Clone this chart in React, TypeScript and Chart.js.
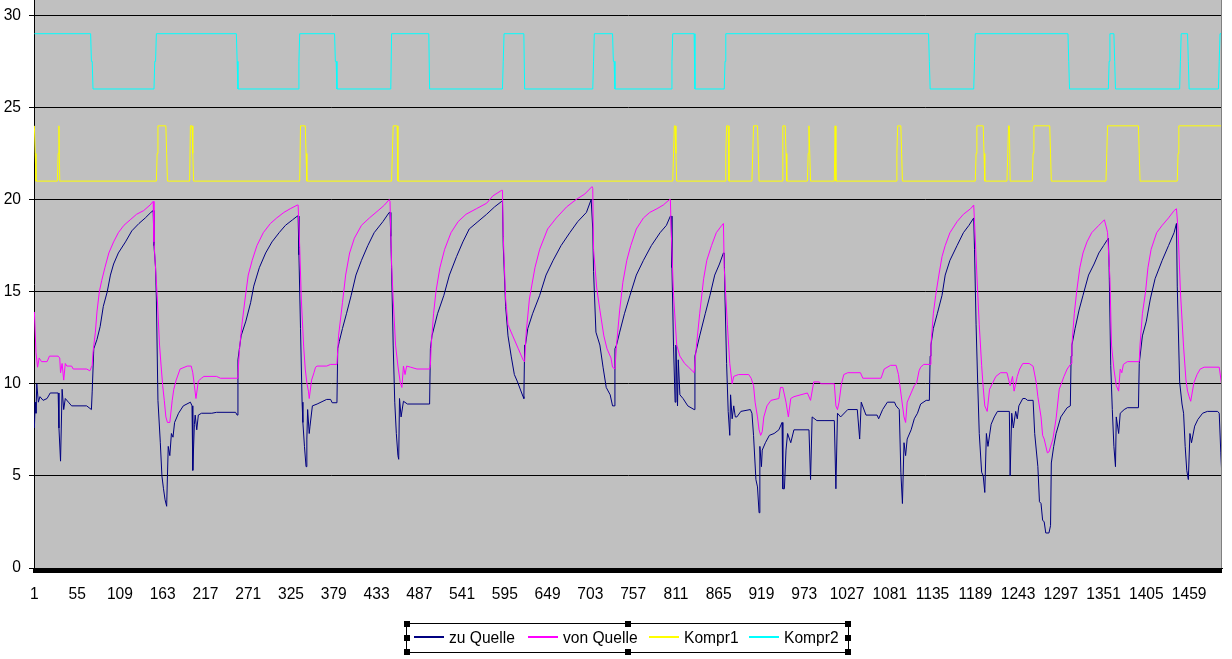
import React, { useEffect, useRef } from "react";
import { Chart, registerables } from "chart.js";

Chart.register(...registerables);

// ---------- data ----------
const SERIES_LABELS = ["zu Quelle", "von Quelle", "Kompr1", "Kompr2"];

const X_TICKS = [1, 55, 109, 163, 217, 271, 325, 379, 433, 487, 541, 595, 649, 703, 757, 811, 865, 919, 973, 1027, 1081, 1135, 1189, 1243, 1297, 1351, 1405, 1459];
const Y_TICKS = [0, 5, 10, 15, 20, 25, 30];
const X_MIN = 0.5;
const X_MAX = 1500.5;
const Y_MAX = 30.83;

// [category, value]
const ZU_QUELLE: [number, number][] = [
  [1,7.6],[2,9.0],[3,8.4],[4,10.0],[6,9.0],[8,9.3],[12,9.1],[17,9.2],[21,9.5],[31,9.5],[32,7.6],[34,5.8],[36,9.7],[38,8.6],[40,9.2],[44,9.0],[48,8.8],[67,8.8],[70,8.7],[73,8.6],[74,9.6],[76,11.9],[80,12.4],[84,13.1],[88,14.2],[93,15.0],[97,15.9],[101,16.5],[107,17.1],[116,17.7],[124,18.3],[133,18.7],[141,19.0],[148,19.3],[151,19.4],
  [152,17.5],[154,16.3],[155,14.6],[157,9.1],[160,6.8],[162,5.0],[164,4.3],[166,3.7],[168,3.35],[169,5.0],[170,6.6],[172,6.1],[174,7.3],[176,7.1],[178,7.9],[183,8.4],[189,8.8],[198,9.0],[200,8.8],[201,5.3],[203,7.8],[204,8.3],[206,7.5],[208,8.3],[212,8.4],[225,8.4],[231,8.45],[255,8.45],[257,8.3],
  [258,11.3],[262,12.6],[268,13.4],[274,14.4],[278,15.3],[285,16.3],[293,17.1],[301,17.7],[310,18.2],[318,18.6],[327,18.9],[333,19.1],[334,19.1],
  [335,17.0],[337,13.0],[339,9.0],[340,7.9],[342,6.6],[344,5.5],[345,7.0],[346,8.6],[348,7.3],[349,7.7],[352,8.8],[358,8.9],[370,9.15],[375,9.15],[377,8.97],[383,8.97],
  [384,11.9],[386,12.3],[390,13.0],[395,13.8],[401,14.8],[407,15.9],[414,16.7],[422,17.5],[430,18.2],[441,18.8],[449,19.3],[450,19.3],
  [451,18.0],[452,16.3],[454,12.1],[456,9.0],[458,7.3],[460,6.1],[461,5.9],[462,9.2],[464,8.2],[467,9.05],[472,8.9],[500,8.9],
  [501,11.9],[503,12.6],[510,13.8],[518,14.8],[525,15.9],[534,16.9],[542,17.7],[550,18.4],[561,18.8],[572,19.2],[582,19.6],[591,19.9],[592,19.9],
  [593,17.5],[596,14.2],[599,12.6],[603,11.5],[607,10.5],[611,10.1],[618,9.3],[619,9.2],
  [620,12.1],[621,12.1],[624,13.0],[630,13.8],[639,14.8],[647,15.9],[656,16.7],[666,17.5],[677,18.2],[687,18.8],[698,19.3],[704,20.0],[705,20.0],
  [706,18.4],[707,16.1],[710,12.8],[715,12.1],[719,10.9],[723,9.8],[728,9.4],[731,8.8],[733,8.8],
  [734,11.9],[736,12.1],[740,12.8],[746,13.8],[753,14.8],[761,15.9],[770,16.7],[780,17.5],[791,18.2],[799,18.6],[804,19.1],[805,19.1],
  [806,16.3],[808,12.0],[810,9.0],[811,12.1],[813,8.8],[814,11.3],[816,9.4],[820,9.2],[826,8.8],[834,8.6],
  [835,11.5],[841,12.6],[848,13.8],[854,14.8],[860,15.9],[866,16.5],[871,17.1],[872,17.1],
  [873,14.6],[875,11.1],[877,8.5],[879,7.2],[880,9.4],[882,8.1],[884,8.8],[886,8.2],[888,8.2],[893,8.5],[905,8.6],[907,8.4],[909,7.2],[912,4.8],[914,4.4],[916,3.0],[917,6.6],[919,5.5],[920,6.4],[924,6.8],[929,7.2],[935,7.3],[941,7.5],[945,7.9],[946,4.3],[948,4.3],[950,6.4],[952,7.3],[956,6.8],[960,7.5],[979,7.5],[981,4.8],[983,8.2],[989,8.0],[998,8.0],[1011,8.0],[1013,4.3],[1015,8.4],[1019,8.2],[1028,8.6],[1040,8.6],[1043,7.0],[1045,9.0],[1051,8.3],[1065,8.3],[1067,8.1],[1072,8.6],[1078,9.0],[1087,9.0],[1089,8.8],[1093,8.6],
  [1095,5.2],[1097,3.5],[1099,6.8],[1101,6.1],[1103,7.0],[1108,7.5],[1112,8.1],[1116,8.4],[1120,8.9],[1127,9.1],[1131,9.1],
  [1132,11.5],[1133,12.1],[1136,13.0],[1141,13.8],[1147,14.8],[1151,15.9],[1157,16.7],[1166,17.5],[1174,18.2],[1181,18.6],[1187,19.0],
  [1188,17.3],[1190,13.2],[1192,10.1],[1194,7.3],[1197,5.2],[1199,5.0],[1201,4.1],[1203,7.3],[1205,6.6],[1209,7.8],[1213,8.2],[1217,8.5],[1232,8.5],[1233,5.0],[1235,8.4],[1237,7.6],[1240,8.5],[1242,8.1],[1244,8.8],[1249,9.2],[1252,9.2],[1255,9.1],[1262,9.1],
  [1264,7.3],[1268,5.5],[1270,3.6],[1272,3.5],[1274,2.6],[1276,2.5],[1278,1.9],[1282,1.9],[1284,2.3],[1285,5.7],[1288,6.6],[1291,7.3],[1297,8.2],[1305,8.7],[1309,8.8],
  [1310,11.5],[1311,12.1],[1315,13.0],[1320,14.0],[1325,14.8],[1332,15.9],[1339,16.5],[1345,17.1],[1351,17.5],[1357,17.9],
  [1358,16.3],[1360,11.0],[1362,8.6],[1364,6.6],[1366,5.5],[1367,8.2],[1370,7.3],[1372,8.4],[1377,8.6],[1381,8.7],[1395,8.7],
  [1396,11.1],[1400,12.6],[1405,13.4],[1410,14.6],[1416,15.7],[1425,16.7],[1433,17.5],[1440,18.2],[1443,18.7],
  [1444,15.3],[1447,10.1],[1450,8.9],[1452,8.4],[1454,6.6],[1456,5.3],[1458,4.8],[1460,7.3],[1462,6.8],[1466,7.7],[1470,8.06],[1476,8.4],[1482,8.5],[1495,8.5],[1497,8.4],[1499,6.25],[1500,5.3],
];

const VON_QUELLE: [number, number][] = [
  [1,13.9],[3,11.7],[5,10.9],[7,11.4],[10,11.2],[17,11.2],[20,11.5],[31,11.5],[33,11.4],[34,10.6],[36,11.1],[38,10.2],[40,11.1],[42,10.96],[48,10.96],[50,10.8],[67,10.8],[71,10.7],[73,10.9],[74,11.0],
  [75,11.7],[78,12.8],[80,13.9],[83,15.0],[86,15.6],[90,16.3],[95,17.1],[101,17.7],[107,18.2],[114,18.6],[122,18.9],[130,19.2],[139,19.4],[147,19.7],[151,19.9],
  [152,17.7],[156,14.8],[159,12.1],[161,10.96],[163,9.9],[165,9.1],[167,8.2],[169,7.9],[172,7.9],[175,9.1],[177,9.7],[180,10.2],[185,10.8],[194,10.96],[199,10.96],[201,10.6],[203,9.9],[205,9.2],[208,10.15],[212,10.3],[215,10.4],[231,10.4],[236,10.3],[257,10.3],
  [258,10.5],[260,11.9],[263,13.2],[267,14.6],[271,15.9],[276,16.7],[282,17.5],[290,18.2],[299,18.7],[307,19.0],[316,19.3],[324,19.5],[333,19.7],[334,19.7],
  [336,17.4],[338,14.6],[341,12.0],[343,10.8],[345,10.05],[347,9.6],[348,9.2],[351,10.2],[354,10.6],[356,10.9],[358,10.96],[370,10.96],[375,11.05],[383,11.05],
  [385,12.6],[390,14.4],[394,15.9],[399,17.1],[405,17.9],[414,18.6],[424,19.0],[435,19.4],[443,19.7],[449,20.0],[450,19.9],
  [452,16.5],[454,14.6],[457,12.1],[460,10.96],[463,10.05],[465,9.8],[467,10.96],[469,10.5],[471,10.96],[476,10.9],[484,10.8],[500,10.8],
  [501,11.0],[502,12.1],[505,13.8],[508,15.0],[513,16.3],[519,17.3],[527,18.2],[536,18.8],[546,19.2],[559,19.5],[572,19.8],[580,20.2],[591,20.5],[592,20.5],
  [593,18.0],[596,14.6],[599,13.2],[605,12.6],[612,11.9],[618,11.3],[620,11.2],
  [622,12.8],[626,14.6],[633,16.3],[639,17.3],[649,18.4],[660,19.0],[673,19.6],[685,20.0],[696,20.3],[705,20.7],[706,20.6],
  [707,17.3],[711,15.2],[715,14.0],[720,12.6],[724,11.9],[729,11.4],[731,10.9],[734,10.8],
  [736,12.1],[740,14.0],[744,15.5],[749,16.7],[754,17.5],[761,18.4],[770,19.0],[778,19.3],[787,19.5],[795,19.7],[803,20.0],[804,20.0],
  [805,18.4],[808,14.8],[812,12.1],[816,11.5],[822,11.1],[827,10.9],[834,10.6],
  [837,12.1],[841,13.8],[846,15.7],[850,16.7],[856,17.5],[862,18.2],[869,18.6],[871,18.7],
  [872,16.3],[876,13.2],[879,11.1],[882,10.0],[884,10.4],[890,10.5],[903,10.5],[906,10.3],[909,9.9],[911,9.0],[914,8.2],[916,7.5],[918,7.2],[920,7.4],[922,8.2],[926,8.8],[931,9.1],[941,9.2],[943,9.8],[946,9.8],[950,9.0],[953,8.2],[956,9.2],[960,9.3],[977,9.5],[981,9.1],[985,10.1],[992,10.1],[994,10.0],[1011,10.0],[1013,8.8],[1015,8.6],[1017,9.0],[1020,10.0],[1023,10.5],[1028,10.6],[1044,10.6],[1047,10.3],[1070,10.3],[1074,10.8],[1082,11.0],[1089,11.0],
  [1092,10.5],[1095,9.5],[1099,8.2],[1101,7.9],[1103,9.0],[1108,9.5],[1112,9.9],[1115,10.05],[1118,10.7],[1120,10.9],[1124,11.05],[1132,11.05],
  [1133,12.1],[1136,13.8],[1139,14.8],[1143,15.9],[1147,16.9],[1151,17.5],[1157,18.2],[1166,18.8],[1174,19.2],[1183,19.5],[1187,19.7],
  [1188,18.8],[1191,15.9],[1194,13.2],[1197,11.0],[1199,9.8],[1201,8.8],[1204,8.5],[1207,9.7],[1211,10.05],[1215,10.4],[1221,10.6],[1229,10.6],[1233,9.9],[1236,10.4],[1238,9.6],[1242,10.4],[1245,10.8],[1249,11.1],[1257,11.1],[1262,10.95],
  [1266,10.05],[1268,9.3],[1272,8.2],[1274,7.2],[1276,7.0],[1280,6.25],[1282,6.3],[1287,7.0],[1291,8.1],[1295,9.7],[1301,10.4],[1305,10.8],[1310,11.1],
  [1311,12.1],[1314,13.8],[1317,15.0],[1321,16.3],[1325,17.1],[1330,17.7],[1336,18.2],[1345,18.6],[1352,18.9],[1355,18.4],[1356,18.2],
  [1359,15.7],[1361,12.1],[1364,10.8],[1367,9.9],[1370,9.6],[1372,10.8],[1374,10.6],[1376,11.05],[1381,11.2],[1396,11.2],
  [1397,12.1],[1400,13.8],[1404,15.0],[1407,16.3],[1411,17.3],[1418,18.2],[1425,18.6],[1433,19.0],[1440,19.4],[1443,19.5],
  [1445,18.4],[1448,15.0],[1452,12.0],[1455,10.2],[1457,9.6],[1459,9.3],[1461,9.05],[1465,10.05],[1469,10.5],[1473,10.8],[1478,10.9],[1497,10.9],[1500,9.96],
];

const KOMPR1: [number, number][] = [
  [1,24],[2,22.5],[3,21],[30,21],[31,22.5],[32,24],[33,21],[155,21],[156,22.5],[157,24],[167,24],[168,22.5],[169,21],[197,21],[198,24],[200,24],[201,22.5],[202,21],
  [336,21],[337,24],[343,24],[344,22.5],[345,21],[452,21],[453,22.5],[454,24],[459,24],[460,21],
  [807,21],[808,22.5],[809,24],[810,24],[811,22.5],[812,21],[873,21],[874,22.5],[875,24],[877,24],[878,21],[907,21],[908,22.5],[909,24],[914,24],[915,22.5],[916,21],
  [945,21],[946,24],[949,24],[950,22.5],[951,21],[977,21],[978,22.5],[979,24],[980,22.5],[981,21],[1011,21],[1012,24],[1013,21],
  [1089,21],[1090,22.5],[1091,24],[1095,24],[1096,22.5],[1097,21],[1189,21],[1190,22.5],[1191,24],[1199,24],[1200,22.5],[1201,21],
  [1229,21],[1230,22.5],[1231,24],[1232,24],[1233,21],[1261,21],[1262,22.5],[1263,24],[1283,24],[1284,22.5],[1285,21],
  [1354,21],[1355,22.5],[1356,24],[1395,24],[1396,22.5],[1397,21],[1444,21],[1445,22.5],[1446,24],[1500,24],
];

const KOMPR2: [number, number][] = [
  [1,29],[72,29],[73,27.5],[74,27.5],[75,26],[152,26],[153,27.5],[154,27.5],[155,29],[256,29],[257,27.5],[258,26],[334,26],[335,27.5],[336,29],
  [380,29],[381,27.5],[382,27.5],[383,26],[451,26],[452,29],[499,29],[500,26],[592,26],[593,27.5],[594,29],[619,29],[620,26],[706,26],[707,27.5],[708,29],
  [731,29],[732,27.5],[733,27.5],[734,26],[805,26],[806,27.5],[807,29],[834,29],[835,26],[872,26],[873,27.5],[874,29],
  [1130,29],[1131,27.5],[1132,26],[1187,26],[1188,27.5],[1189,29],[1306,29],[1307,27.5],[1308,26],[1357,26],[1358,27.5],[1359,29],
  [1364,29],[1365,27.5],[1366,26],[1447,26],[1448,27.5],[1449,29],[1457,29],[1458,27.5],[1459,26],[1496,26],[1497,27.5],[1498,29],[1500,29],
];

// ---------- styles ----------
const COLORS = ["#000080", "#FF00FF", "#FFFF00", "#00FFFF"];
const FONT = "Arial, 'Liberation Sans', sans-serif";
const FONT_SIZE = 15.6;
const PLOT_BG = "#C0C0C0";

// legend layout (px, relative to the legend box)
const LEGEND_BOX = { left: 406, top: 623, width: 443, height: 30 };
const LEGEND_LINE_LEFT = [7, 121, 242, 342];
const LEGEND_TEXT_LEFT = [42, 156, 277, 377];

const chromePlugin = {
  id: "excelChrome",
  beforeDraw(chart: any) {
    const { ctx, chartArea: a } = chart;
    ctx.save();
    ctx.fillStyle = PLOT_BG;
    ctx.fillRect(a.left, a.top, a.right - a.left, a.bottom - a.top);
    ctx.restore();
  },
  afterDraw(chart: any) {
    const { ctx, chartArea: a } = chart;
    ctx.save();
    // dense category tick marks form a solid black band under the axis
    ctx.fillStyle = "#000";
    ctx.fillRect(a.left - 1, a.bottom, a.right - a.left + 1, 5);
    ctx.fillStyle = "#808080";
    ctx.fillRect(a.right - 1, a.top, 1, a.bottom - a.top);
    ctx.restore();
  },
};

function toPoints(arr: [number, number][]) {
  return arr.map(([x, y]) => ({ x, y }));
}

export default function App() {
  const canvasRef = useRef<HTMLCanvasElement | null>(null);

  useEffect(() => {
    if (!canvasRef.current) return;
    const series = [ZU_QUELLE, VON_QUELLE, KOMPR1, KOMPR2];
    const chart = new Chart(canvasRef.current, {
      type: "line",
      data: {
        datasets: series.map((s, i) => ({
          label: SERIES_LABELS[i],
          data: toPoints(s),
          borderColor: COLORS[i],
          backgroundColor: COLORS[i],
          borderWidth: 1,
          pointRadius: 0,
          tension: 0,
          fill: false,
          order: i === 0 ? 2 : 1,
        })),
      },
      options: {
        animation: false,
        responsive: false,
        events: [],
        layout: { padding: { left: 0, right: 10, top: 0, bottom: 0 } },
        plugins: { legend: { display: false }, tooltip: { enabled: false } },
        scales: {
          x: {
            type: "linear",
            min: X_MIN,
            max: X_MAX,
            afterBuildTicks: (s: any) => {
              s.ticks = X_TICKS.map((v) => ({ value: v }));
            },
            afterFit: (s: any) => {
              s.height = 91;
              s.paddingLeft = 0;
              s.paddingRight = 0;
            },
            grid: { display: false, drawTicks: false },
            border: { display: true, color: "#000", width: 1 },
            ticks: {
              autoSkip: false,
              maxRotation: 0,
              minRotation: 0,
              padding: 17,
              color: "#000",
              font: { family: FONT, size: FONT_SIZE },
              callback: (v: any) => String(v),
            },
          },
          y: {
            type: "linear",
            min: 0,
            max: Y_MAX,
            afterBuildTicks: (s: any) => {
              s.ticks = Y_TICKS.map((v) => ({ value: v }));
            },
            afterFit: (s: any) => {
              s.width = 34;
              s.paddingTop = 0;
              s.paddingBottom = 0;
            },
            grid: { color: "#000", lineWidth: 1, drawTicks: true, tickLength: 5 },
            border: { display: true, color: "#000", width: 1 },
            ticks: {
              padding: 8,
              color: "#000",
              font: { family: FONT, size: FONT_SIZE },
              callback: (v: any) => String(v),
            },
          },
        },
      },
      plugins: [chromePlugin],
    } as any);
    return () => chart.destroy();
  }, []);

  const handles: [number, number][] = [
    [0, 0], [0.5, 0], [1, 0], [0, 0.5], [1, 0.5], [0, 1], [0.5, 1], [1, 1],
  ];

  return (
    <div style={{ position: "fixed", left: 0, top: 0, width: 1232, height: 659, background: "#fff", overflow: "hidden" }}>
      <canvas ref={canvasRef} width={1232} height={659} style={{ position: "absolute", left: 0, top: 0, width: 1232, height: 659 }} />
      <div
        style={{
          position: "absolute",
          left: LEGEND_BOX.left,
          top: LEGEND_BOX.top,
          width: LEGEND_BOX.width,
          height: LEGEND_BOX.height,
          border: "1px solid #000",
          boxSizing: "border-box",
          fontFamily: FONT,
          fontSize: FONT_SIZE,
          color: "#000",
        }}
      >
        {SERIES_LABELS.map((label, i) => (
          <React.Fragment key={label}>
            <div style={{ position: "absolute", left: LEGEND_LINE_LEFT[i], top: 12, width: 30, height: 2, background: COLORS[i] }} />
            <div style={{ position: "absolute", left: LEGEND_TEXT_LEFT[i], top: 0, height: 28, lineHeight: "28px", whiteSpace: "nowrap" }}>{label}</div>
          </React.Fragment>
        ))}
        {handles.map(([fx, fy], k) => (
          <div
            key={k}
            style={{
              position: "absolute",
              left: fx * (LEGEND_BOX.width - 2) - 3,
              top: fy * (LEGEND_BOX.height - 2) - 3,
              width: 6,
              height: 6,
              background: "#000",
            }}
          />
        ))}
      </div>
    </div>
  );
}
